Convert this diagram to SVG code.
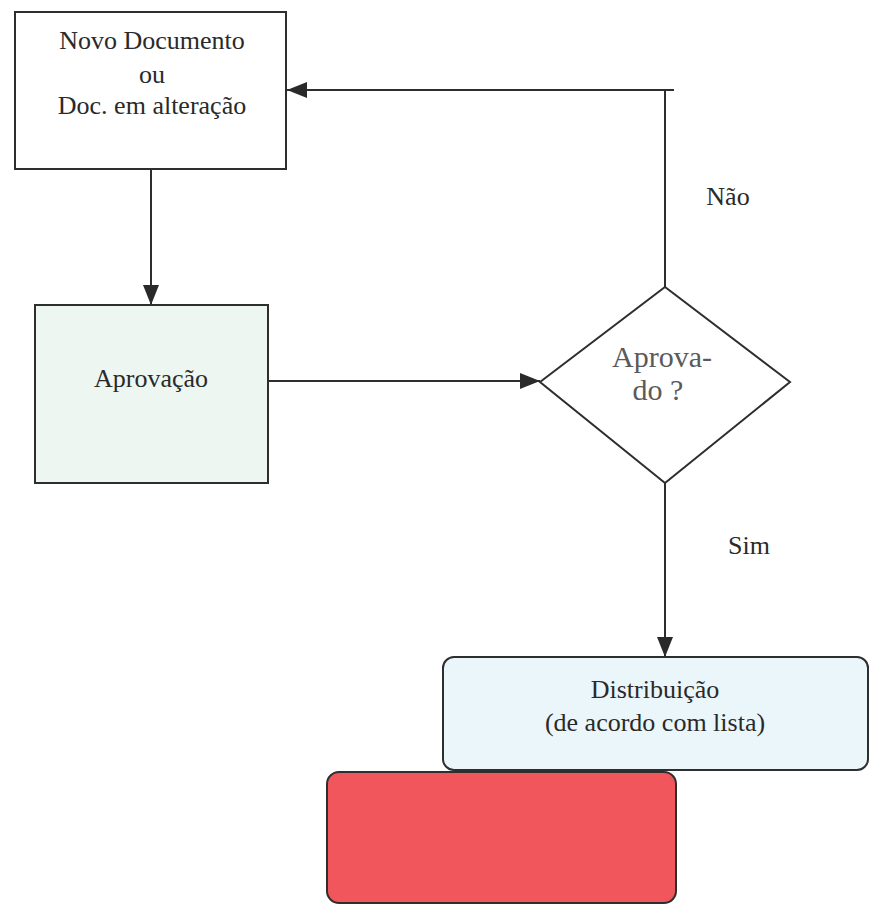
<svg xmlns="http://www.w3.org/2000/svg" width="870" height="905" viewBox="0 0 870 905">
  <style>
    .box { stroke: #2e2e2e; stroke-width: 2; }
    .edge { stroke: #2e2e2e; stroke-width: 2; fill: none; }
  </style>
  <defs>
    <marker id="arrow" viewBox="0 0 20 16" refX="20" refY="8" markerWidth="20" markerHeight="16" markerUnits="userSpaceOnUse" orient="auto">
      <path d="M0,0 L20,8 L0,16 Z" fill="#2a2a2a"/>
    </marker>
  </defs>
  <rect width="870" height="905" fill="#ffffff"/>

  <g id="connectors">
    <path class="edge" d="M151,170 V305" marker-end="url(#arrow)"/>
    <path class="edge" d="M268,381 H540" marker-end="url(#arrow)"/>
    <path class="edge" d="M665,287 V90 H287" marker-end="url(#arrow)"/>
    <path class="edge" d="M665,90 H674"/>
    <path class="edge" d="M665,483 V657" marker-end="url(#arrow)"/>
    <g font-family="'Liberation Serif', 'Times New Roman', 'DejaVu Serif', serif" font-size="26" fill="#2a2a2a" text-anchor="middle">
      <text x="728" y="205">Não</text>
      <text x="749" y="554">Sim</text>
    </g>
  </g>

  <g id="novo-documento" font-family="'Liberation Serif', 'Times New Roman', 'DejaVu Serif', serif" font-size="26" fill="#2a2a2a" text-anchor="middle">
    <rect class="box" x="15" y="12" width="271" height="157" fill="#ffffff"/>
    <text x="152" y="49">Novo Documento</text>
    <text x="152" y="83">ou</text>
    <text x="152" y="114">Doc. em alteração</text>
  </g>

  <g id="aprovacao" font-family="'Liberation Serif', 'Times New Roman', 'DejaVu Serif', serif" font-size="26" fill="#2a2a2a" text-anchor="middle">
    <rect class="box" x="35" y="305" width="233" height="178" fill="#edf6f1"/>
    <text x="151" y="387">Aprovação</text>
  </g>

  <g id="aprovado" font-family="'Liberation Serif', 'Times New Roman', 'DejaVu Serif', serif" font-size="30" fill="#5a5a5a" text-anchor="middle">
    <polygon class="box" points="540,382 665,287 790,382 665,483" fill="#ffffff"/>
    <text x="662" y="367">Aprova-</text>
    <text x="658" y="400">do ?</text>
  </g>

  <g id="distribuicao" font-family="'Liberation Serif', 'Times New Roman', 'DejaVu Serif', serif" font-size="26" fill="#2a2a2a" text-anchor="middle">
    <rect class="box" x="443" y="657" width="425" height="113" rx="11" fill="#ebf6fb"/>
    <text x="655" y="698">Distribuição</text>
    <text x="655" y="731">(de acordo com lista)</text>
  </g>

  <g id="red-block">
    <rect class="box" x="327" y="772" width="349" height="131" rx="12" fill="#f0565b"/>
  </g>
</svg>
